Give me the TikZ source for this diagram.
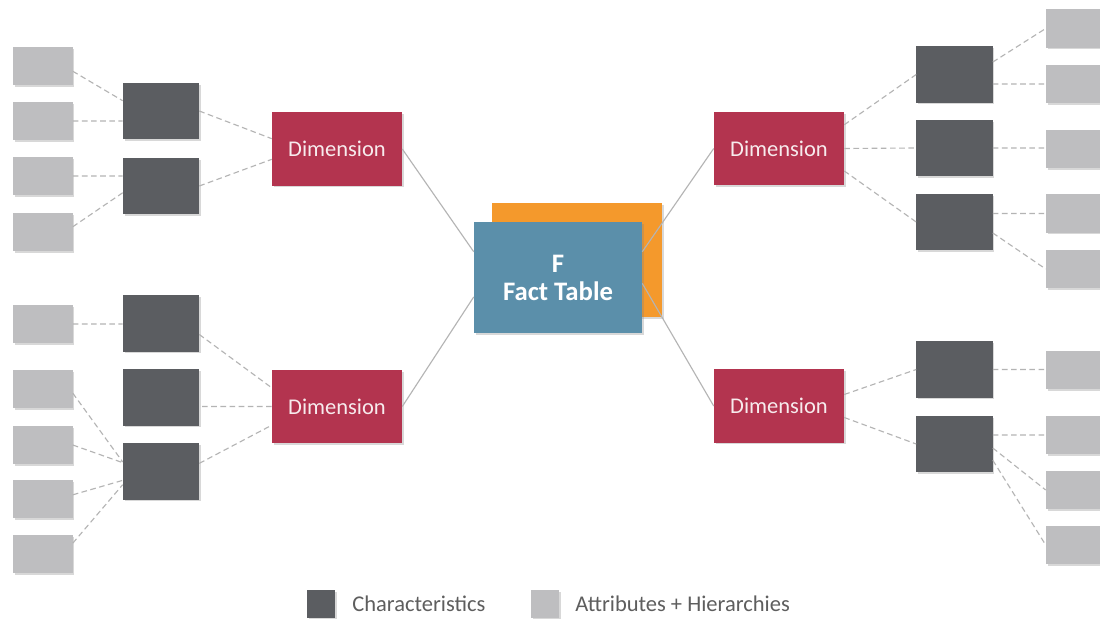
\documentclass[tikz,border=0pt]{standalone}
\usepackage{fontspec}
\setmainfont{Carlito}
\usetikzlibrary{shadows}
\definecolor{attrgray}{HTML}{BEBEC0}
\definecolor{chargray}{HTML}{5B5D61}
\definecolor{dimred}{HTML}{B3344F}
\definecolor{factblue}{HTML}{5B8FAA}
\definecolor{factorange}{HTML}{F4992C}
\definecolor{linegray}{HTML}{B4B4B4}
\definecolor{legendtext}{HTML}{5E5E5E}
\tikzset{
 boxshadow/.style={inner sep=0pt,drop shadow={shadow xshift=1.2pt,shadow yshift=-1.2pt,opacity=.3}},
 attrbox/.style={boxshadow,fill=attrgray,minimum width=1.475cm,minimum height=.95cm},
 charbox/.style={boxshadow,fill=chargray,minimum width=1.9cm,minimum height=1.4cm},
 dimbox/.style={boxshadow,fill=dimred,minimum width=3.25cm,minimum height=1.825cm,text=white!90!dimred,font=\fontsize{16}{18}\selectfont},
 factbox/.style={boxshadow,fill=factblue,minimum width=4.2cm,minimum height=2.775cm,text=white,align=center,font=\bfseries\fontsize{19}{20}\selectfont},
 link/.style={draw=linegray,dash pattern=on 4pt off 2.5pt,line width=.8pt},
 tie/.style={draw=linegray,line width=.8pt},
 legendlabel/.style={anchor=west,inner sep=0pt,text=legendtext,font=\fontsize{16}{18}\selectfont}
}
\begin{document}
\begin{tikzpicture}[x=.025cm,y=-.025cm]
\useasboundingbox[fill=white](0,0)rectangle(1100,619);
\clip(0,0)rectangle(1100,619);
\node[boxshadow,fill=factorange,minimum width=4.25cm,minimum height=2.85cm](back)at(577,260){};
\node[factbox](fact)at(558,277.5){F\\Fact Table};
\node[dimbox](dtl)at(337,149){Dimension};
\node[dimbox](dbl)at(337,406.5){Dimension};
\node[dimbox](dtr)at(779,148.5){Dimension};
\node[dimbox](dbr)at(779,406){Dimension};
\node[charbox](c1)at(161,111){};
\node[charbox](c2)at(161,186){};
\node[charbox](e1)at(161,323.5){};
\node[charbox](e2)at(161,397.5){};
\node[charbox](e3)at(161,471.5){};
\node[charbox](f1)at(954.5,74.5){};
\node[charbox](f2)at(954.5,148){};
\node[charbox](f3)at(954.5,222){};
\node[charbox](h1)at(954.5,369.5){};
\node[charbox](h2)at(954.5,444){};
\node[attrbox](a1)at(43,66){};
\node[attrbox](a2)at(43,121){};
\node[attrbox](a3)at(43,176){};
\node[attrbox](a4)at(43,232){};
\node[attrbox](b1)at(43,324){};
\node[attrbox](b2)at(43,389){};
\node[attrbox](b3)at(43,445){};
\node[attrbox](b4)at(43,499){};
\node[attrbox](b5)at(43,554){};
\node[attrbox](g1)at(1075.5,28.5){};
\node[attrbox](g2)at(1075.5,84){};
\node[attrbox](g3)at(1075.5,149){};
\node[attrbox](g4)at(1075.5,213.5){};
\node[attrbox](g5)at(1075.5,269){};
\node[attrbox](k1)at(1075.5,370){};
\node[attrbox](k2)at(1075.5,435){};
\node[attrbox](k3)at(1075.5,490){};
\node[attrbox](k4)at(1075.5,545){};
\draw[tie](dtl.east)--(fact.163)(dbl.east)--(fact.193)(dtr.west)--(fact.17)(dbr.west)--(fact.356);
\draw[link](a1.350)--(c1.165)(a2.east)--(a2.east-|c1.west)(a3.east)--(a3.east-|c2.west)(a4.10)--(c2.190);
\draw[link](c1.east)--(dtl.171)(c2.east)--(dtl.189);
\draw[link](b1.east)--(b1.east-|e1.west)(b2.352)--(e3.166)(b3.east)--(e3.167)(b4.8)--(e3.193)(b5.20)--(e3.199);
\draw[link](e1.344)--(dbl.164)(dbl.west)--(dbl.west-|e2.east)(e3.12)--(dbl.196);
\draw[link](dtr.20)--(f1.west)(dtr.east)--(f2.west)(dtr.341)--(f3.west);
\draw[link](f1.18)--(g1.west)(g2.west-|f1.east)--(g2.west)(f2.east)--(f2.east-|g3.west)(g4.west-|f3.east)--(g4.west)(f3.344)--(g5.west);
\draw[link](dbr.10)--(h1.west)(dbr.350)--(h2.west);
\draw[link](h1.east)--(h1.east-|k1.west)(k2.west-|h2.east)--(k2.west)(h2.354)--(k3.west)(h2.337)--(k4.west);
\node[charbox,minimum width=.7cm,minimum height=.7cm](lchar)at(321,604){};
\node[legendlabel](tchar)at(352,604){Characteristics};
\node[attrbox,minimum width=.7cm,minimum height=.7cm](lattr)at(545,604){};
\node[legendlabel](tattr)at(575,604){Attributes + Hierarchies};
\end{tikzpicture}
\end{document}
